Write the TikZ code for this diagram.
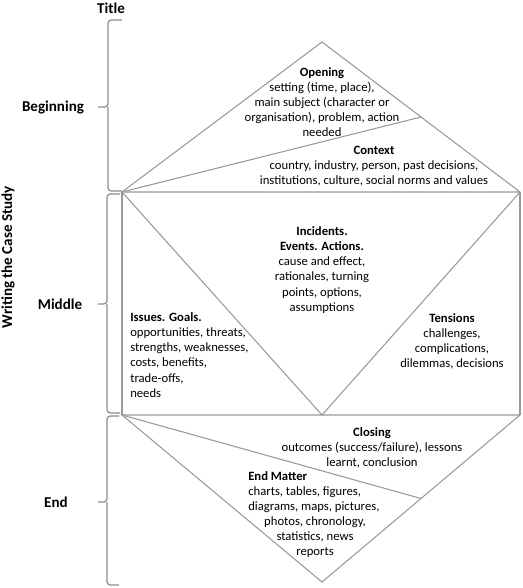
\documentclass[tikz,border=0pt]{standalone}
\usepackage{fontspec}
\setmainfont{Carlito}
\usepackage{tikz}
\usetikzlibrary{calc}
\tikzset{
  edge/.style  = {draw=black!40, line width=0.8pt},
  brace/.style = {draw=black!45, line width=0.9pt, rounded corners=2.5pt},
  txt/.style   = {font=\fontsize{9.5}{11.3}\selectfont, align=center, inner sep=0pt},
  lbl/.style   = {font=\fontsize{11.3}{13}\selectfont\bfseries, inner sep=0pt}
}

\begin{document}
\begin{tikzpicture}[x=0.75pt, y=-0.75pt]
\useasboundingbox (0,0) rectangle (522,588);
\coordinate (A)  at (322,42);
\coordinate (BL) at (122,192);
\coordinate (BR) at (520,192);
\coordinate (ML) at (122,415);
\coordinate (MR) at (520,415);
\coordinate (V)  at (322,415);
\coordinate (Z)  at (322,582);
\coordinate (P)  at ($(A)!0.5!(BR)$);
\coordinate (Q)  at ($(MR)!0.5!(Z)$);
% beginning, middle, end
\draw[edge] (A)--(BL)--(BR)--cycle;
\draw[edge] (BL)--(P);
\draw[edge] (BR)--(MR) (ML)--(BL);
\draw[edge] (BL)--(V)--(BR);
\draw[edge] (ML)--(MR)--(Z)--cycle;
\draw[edge] (ML)--(Q);
% braces on the left
\draw[brace] (122,20) -- (108,20) -- (108,107) -- (98,107) (108,107) -- (108,191) -- (122,191);
\draw[brace] (120,194) -- (107,194) -- (107,304) -- (98,304) (107,304) -- (107,413) -- (120,413);
\draw[brace] (119,416) -- (107,416) -- (107,502) -- (98,502) (107,502) -- (107,585) -- (119,585);
\node[lbl] (title) at (111,8) {Title};
\node[lbl] (beg)   at (53,107) {Beginning};
\node[lbl] (mid)   at (60,304) {Middle};
\node[lbl] (end)   at (56,502) {End};
\node[lbl, rotate=90] (writing) at (8,257) {Writing the Case Study};
% texts in the shapes
\node[txt] (opening) at (322,102) {\textbf{Opening}\\setting (time, place),\\main subject (character or\\organisation), problem, action\\needed};
\node[txt] (context) at (374,166) {\textbf{Context}\\country, industry, person, past decisions,\\institutions, culture, social norms and values};
\node[txt] (incidents) at (322,270) {\textbf{Incidents.}\\\textbf{Events. Actions.}\\cause and effect,\\rationales, turning\\points, options,\\assumptions};
\node[txt, align=left, anchor=west] (issues) at (130,355) {\textbf{Issues. Goals.}\\opportunities, threats,\\strengths, weaknesses,\\costs, benefits,\\trade-offs,\\needs};
\node[txt] (tensions) at (452,341) {\textbf{Tensions}\\challenges,\\complications,\\dilemmas, decisions};
\node[txt] (closing) at (372,448) {\textbf{Closing}\\outcomes (success/failure), lessons\\learnt, conclusion};
\node[txt, align=left, anchor=west] (endmatter) at (248,492) {\textbf{End Matter}\\charts, tables, figures,\\diagrams, maps, pictures,};
\node[txt] (endmatter2) at (315,537) {photos, chronology,\\statistics, news\\reports};
\end{tikzpicture}
\end{document}
